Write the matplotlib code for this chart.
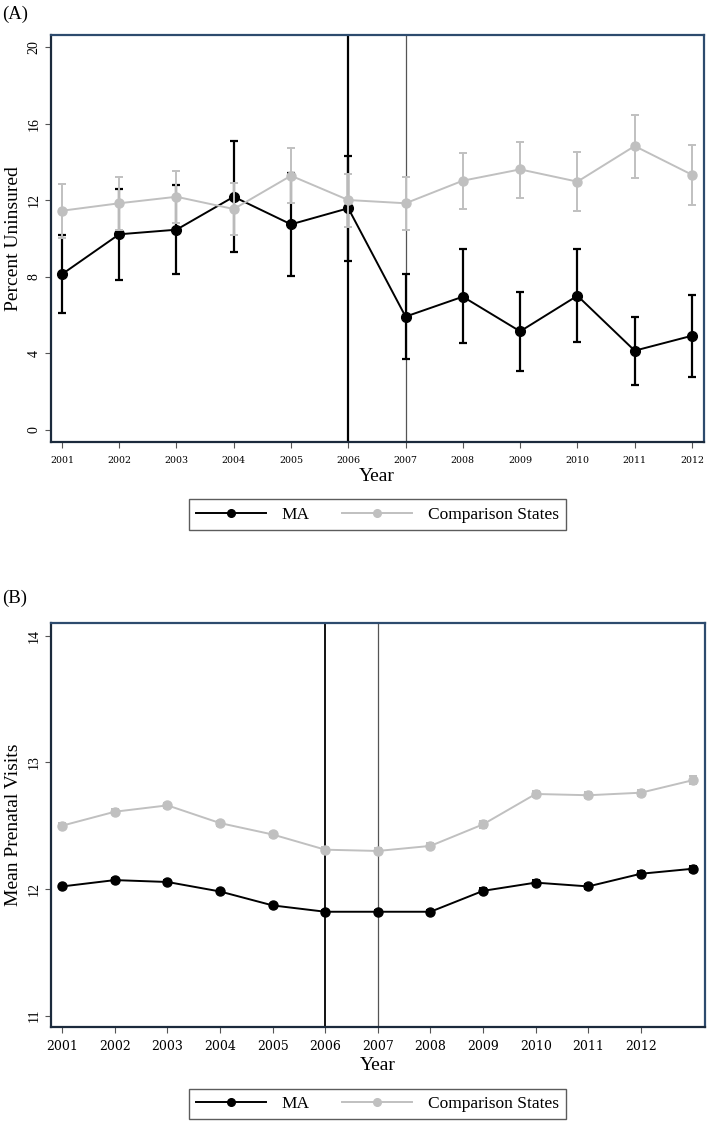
import matplotlib
matplotlib.use("Agg")
import matplotlib.pyplot as plt
from matplotlib.lines import Line2D
import numpy as np

# ------------------------------------------------------------------
# Datos
# ------------------------------------------------------------------
years_a = [2001, 2002, 2003, 2004, 2005, 2006, 2007, 2008, 2009, 2010, 2011, 2012]

# (A) porcentaje sin seguro
ma_a    = [8.13, 10.22, 10.46, 12.18, 10.74, 11.58, 5.92, 6.96, 5.15, 7.01, 4.14, 4.92]
ma_a_lo = [6.09, 7.85, 8.15, 9.28, 8.03, 8.83, 3.69, 4.53, 3.06, 4.61, 2.33, 2.75]
ma_a_hi = [10.17, 12.60, 12.79, 15.08, 13.44, 14.31, 8.15, 9.45, 7.20, 9.45, 5.92, 7.07]

cs_a    = [11.45, 11.84, 12.18, 11.54, 13.28, 12.01, 11.84, 13.02, 13.61, 12.97, 14.83, 13.33]
cs_a_lo = [10.05, 10.45, 10.83, 10.18, 11.87, 10.58, 10.44, 11.52, 12.11, 11.42, 13.16, 11.76]
cs_a_hi = [12.85, 13.23, 13.54, 12.92, 14.73, 13.37, 13.20, 14.48, 15.06, 14.53, 16.43, 14.90]

# (B) visitas prenatales promedio (13 puntos, solo 12 etiquetas)
years_b  = [2001, 2002, 2003, 2004, 2005, 2006, 2007, 2008, 2009, 2010, 2011, 2012, 2013]
ma_b     = [12.02, 12.07, 12.055, 11.98, 11.87, 11.82, 11.82, 11.82, 11.985, 12.05, 12.02, 12.12, 12.16]
ma_b_ci  = [0.015, 0.015, 0.015, 0.015, 0.015, 0.015, 0.015, 0.015, 0.02, 0.02, 0.02, 0.02, 0.025]
cs_b     = [12.50, 12.61, 12.66, 12.52, 12.43, 12.31, 12.30, 12.34, 12.51, 12.75, 12.74, 12.76, 12.86]
cs_b_ci  = [0.02, 0.02, 0.02, 0.02, 0.02, 0.02, 0.02, 0.02, 0.025, 0.025, 0.025, 0.025, 0.03]

tick_years = years_a
series_names = ["MA", "Comparison States"]

# ------------------------------------------------------------------
# Estilo
# ------------------------------------------------------------------
plt.rcParams["font.family"] = ["Liberation Serif", "DejaVu Serif"]
BLACK = "#000000"
GRAY  = "#c0c0c0"
FRAME = "#2d4b6e"

W, H = 709, 1123
fig = plt.figure(figsize=(W / 100, H / 100), dpi=100)


def px_axes(left, top, right, bottom):
    return fig.add_axes([left / W, 1 - bottom / H, (right - left) / W, (bottom - top) / H])


def style_frame(ax):
    for s in ax.spines.values():
        s.set_color(FRAME)
        s.set_linewidth(1.6)
    ax.spines["left"].set_color("#1b2a3c")
    ax.spines["bottom"].set_color("#1b2a3c")


def add_legend(y_px):
    handles = [Line2D([], [], color=BLACK, marker="o", ms=5.5, lw=1.4),
               Line2D([], [], color=GRAY, marker="o", ms=5.5, lw=1.4)]
    leg = fig.legend(handles, series_names, loc="center",
                     bbox_to_anchor=(377.5 / W, 1 - y_px / H), ncol=2,
                     fontsize=12.5, frameon=True, fancybox=False, edgecolor="#333333",
                     handlelength=4.0, columnspacing=1.9, borderpad=0.4, handletextpad=0.9)
    leg.get_frame().set_linewidth(1.0)
    return leg


# ------------------------------------------------------------------
# Panel A
# ------------------------------------------------------------------
axA = px_axes(51, 35, 704, 442)
axA.axvline(2006, color="black", lw=1.6, zorder=1)
axA.axvline(2007, color="#555555", lw=0.9, zorder=1)

ya = np.array(ma_a)
axA.errorbar(years_a, ma_a, yerr=[ya - np.array(ma_a_lo), np.array(ma_a_hi) - ya],
             color=BLACK, marker="o", ms=7, lw=1.4, elinewidth=1.6, capsize=3, capthick=1.6,
             zorder=3)
yc = np.array(cs_a)
axA.errorbar(years_a, cs_a, yerr=[yc - np.array(cs_a_lo), np.array(cs_a_hi) - yc],
             color=GRAY, marker="o", ms=6.5, lw=1.4, elinewidth=1.4, capsize=3, capthick=1.4,
             zorder=4)

axA.set_xlim(2000.81, 2012.21)
axA.set_ylim(-0.63, 20.63)
axA.set_xticks(tick_years)
axA.set_xticklabels([str(y) for y in tick_years], fontsize=6.8, family="DejaVu Serif")
axA.set_yticks([0, 4, 8, 12, 16, 20])
axA.set_yticklabels(["0", "4", "8", "12", "16", "20"], fontsize=10, rotation=90, va="center")
axA.tick_params(length=4, width=0.8, color="#555555")
axA.tick_params(axis="x", pad=6)
axA.set_ylabel("Percent Uninsured", fontsize=14, labelpad=4)
style_frame(axA)
fig.text(377 / W, 1 - 477 / H, "Year", fontsize=14, ha="center", va="center")
fig.text(2 / W, 1 - 14 / H, "(A)", fontsize=13.5, va="center", ha="left")
add_legend(514.5)

# ------------------------------------------------------------------
# Panel B
# ------------------------------------------------------------------
axB = px_axes(51, 623, 705, 1027)
axB.axvline(2006, color="black", lw=1.3, zorder=1)
axB.axvline(2007, color="#555555", lw=0.9, zorder=1)

axB.errorbar(years_b, ma_b, yerr=ma_b_ci, color=BLACK, marker="o", ms=6.5, lw=1.4,
             elinewidth=1.4, capsize=3, capthick=1.4, zorder=3)
axB.errorbar(years_b, cs_b, yerr=cs_b_ci, color=GRAY, marker="o", ms=6.5, lw=1.4,
             elinewidth=1.4, capsize=3, capthick=1.4, zorder=3)

axB.set_xlim(2000.785, 2013.22)
axB.set_ylim(10.91, 14.10)
axB.set_xticks(tick_years)
axB.set_xticklabels([str(y) for y in tick_years], fontsize=9, family="DejaVu Serif")
axB.set_yticks([11, 12, 13, 14])
axB.set_yticklabels(["11", "12", "13", "14"], fontsize=10, rotation=90, va="center")
axB.tick_params(length=4, width=0.8, color="#555555")
axB.tick_params(axis="x", pad=5)
axB.set_ylabel("Mean Prenatal Visits", fontsize=14, labelpad=4)
style_frame(axB)
fig.text(378 / W, 1 - 1066 / H, "Year", fontsize=14, ha="center", va="center")
fig.text(2 / W, 1 - 598 / H, "(B)", fontsize=13.5, va="center", ha="left")
add_legend(1104)

fig.savefig("out.png", dpi=100)
